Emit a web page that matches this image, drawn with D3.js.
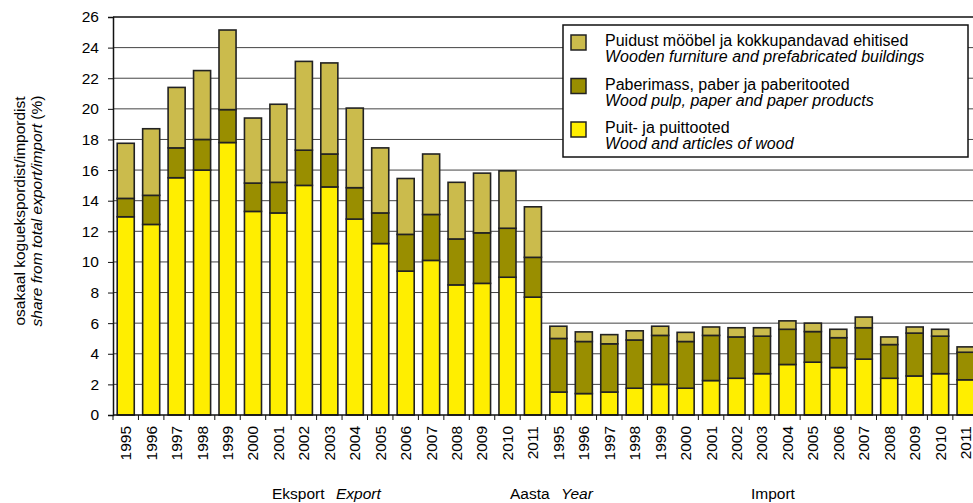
<!DOCTYPE html>
<html>
<head>
<meta charset="utf-8">
<script src="https://cdn.jsdelivr.net/npm/d3@7"></script>
<style>
  body { margin: 0; background: #fff; }
  svg { font-family: Arial, "Liberation Sans", sans-serif; }
</style>
</head>
<body>
<div id="chart"></div>
<script>
const years = ['1995','1996','1997','1998','1999','2000','2001','2002','2003','2004','2005','2006','2007','2008','2009','2010','2011'];

const exportWood      = [12.95, 12.45, 15.5, 16.0, 17.8, 13.3, 13.2, 15.0, 14.9, 12.8, 11.2, 9.4, 10.1, 8.5, 8.6, 9.0, 7.7];
const exportPaper     = [1.2, 1.9, 1.95, 2.0, 2.15, 1.85, 2.0, 2.3, 2.15, 2.05, 2.0, 2.4, 3.0, 3.0, 3.3, 3.2, 2.6];
const exportFurniture = [3.6, 4.35, 3.95, 4.5, 5.2, 4.25, 5.1, 5.8, 5.95, 5.2, 4.25, 3.65, 3.95, 3.7, 3.9, 3.75, 3.3];

const importWood      = [1.5, 1.4, 1.5, 1.75, 2.0, 1.75, 2.25, 2.4, 2.7, 3.3, 3.45, 3.1, 3.65, 2.4, 2.55, 2.7, 2.3];
const importPaper     = [3.5, 3.4, 3.15, 3.15, 3.2, 3.05, 2.95, 2.7, 2.45, 2.3, 2.0, 1.95, 2.05, 2.2, 2.8, 2.45, 1.8];
const importFurniture = [0.8, 0.63, 0.6, 0.6, 0.6, 0.6, 0.55, 0.6, 0.55, 0.55, 0.55, 0.55, 0.7, 0.5, 0.4, 0.45, 0.35];

const yTicks = d3.range(0, 27, 2);

const seriesKeys = ['wood', 'paper', 'furniture'];
const seriesColors = { wood: '#ffee00', paper: '#998e00', furniture: '#cbbb4c' };
const legendItems = [
  { key: 'furniture', et: 'Puidust mööbel ja kokkupandavad ehitised', en: 'Wooden furniture and prefabricated buildings' },
  { key: 'paper', et: 'Paberimass, paber ja paberitooted', en: 'Wood pulp, paper and paper products' },
  { key: 'wood', et: 'Puit- ja puittooted', en: 'Wood and articles of wood' }
];

// build rows: export years then import years
const rows = [];
years.forEach((y, i) => rows.push({ id: 'E' + y, year: y, wood: exportWood[i], paper: exportPaper[i], furniture: exportFurniture[i] }));
years.forEach((y, i) => rows.push({ id: 'I' + y, year: y, wood: importWood[i], paper: importPaper[i], furniture: importFurniture[i] }));

const width = 973, height = 503;
const plotLeft = 113, plotBottom = 415, plotTop = 17;
const step = 25.45;
const plotRight = plotLeft + rows.length * step;
const font = 'Arial, "Liberation Sans", sans-serif';

const svg = d3.select('#chart').append('svg')
  .attr('width', width)
  .attr('height', height);

const x = d3.scaleBand()
  .domain(rows.map(d => d.id))
  .range([plotLeft, plotRight])
  .paddingInner(0.33)
  .paddingOuter(0.165);

const y = d3.scaleLinear()
  .domain([0, 26])
  .range([plotBottom, plotTop]);

// gridlines
svg.append('g')
  .selectAll('line')
  .data(yTicks.filter(t => t > 0 && t < 26))
  .enter().append('line')
  .attr('x1', plotLeft).attr('x2', plotRight)
  .attr('y1', d => y(d)).attr('y2', d => y(d))
  .attr('stroke', '#444')
  .attr('stroke-width', 1);

// frame top
svg.append('line')
  .attr('x1', plotLeft).attr('x2', plotRight)
  .attr('y1', y(26)).attr('y2', y(26))
  .attr('stroke', '#111').attr('stroke-width', 1.5);

// stacked bars
const stack = d3.stack().keys(seriesKeys);
const stacked = stack(rows);

svg.append('g')
  .selectAll('g')
  .data(stacked)
  .enter().append('g')
  .attr('fill', d => seriesColors[d.key])
  .selectAll('rect')
  .data(d => d)
  .enter().append('rect')
  .attr('x', d => x(d.data.id))
  .attr('y', d => y(d[1]))
  .attr('width', x.bandwidth())
  .attr('height', d => y(d[0]) - y(d[1]))
  .attr('stroke', '#222')
  .attr('stroke-width', 1.6);

// y axis
const yAxis = svg.append('g')
  .attr('transform', `translate(${plotLeft},0)`)
  .call(d3.axisLeft(y).tickValues(yTicks).tickSize(5).tickPadding(9));
yAxis.select('.domain').attr('stroke', '#111').attr('stroke-width', 1.5);
yAxis.selectAll('.tick line').attr('stroke', '#111');
yAxis.selectAll('text').attr('font-size', 15.5).attr('fill', '#000')
  .attr('font-family', font);

// x axis: labels at band centers, ticks at band edges
const xAxis = svg.append('g')
  .attr('transform', `translate(0,${plotBottom})`)
  .call(d3.axisBottom(x).tickSize(0).tickFormat(id => id.slice(1)));
xAxis.select('.domain').remove();
xAxis.selectAll('text')
  .attr('font-size', 15.5)
  .attr('fill', '#000')
  .attr('font-family', font)
  .attr('text-anchor', 'end')
  .attr('transform', 'rotate(-90)')
  .attr('x', -11)
  .attr('y', 0)
  .attr('dy', '0.35em');

svg.append('line')
  .attr('x1', plotLeft).attr('x2', plotRight)
  .attr('y1', plotBottom).attr('y2', plotBottom)
  .attr('stroke', '#111').attr('stroke-width', 1.5);

svg.append('g')
  .selectAll('line')
  .data(d3.range(rows.length + 1))
  .enter().append('line')
  .attr('x1', i => plotLeft + i * x.step())
  .attr('x2', i => plotLeft + i * x.step())
  .attr('y1', plotBottom).attr('y2', plotBottom + 5)
  .attr('stroke', '#111');

// y axis title
const yTitle = svg.append('text')
  .attr('transform', 'translate(25,211) rotate(-90)')
  .attr('text-anchor', 'middle')
  .attr('font-size', 15.5);
yTitle.append('tspan').attr('x', 0).attr('dy', 0).text('osakaal koguekspordist/impordist');
const yTitle2 = yTitle.append('tspan').attr('x', 0).attr('dy', 17);
yTitle2.append('tspan').attr('font-style', 'italic').text('share from total export/import');
yTitle2.append('tspan').text(' (%)');

// bottom labels
const bottomY = 499;
const bottomLabels = [
  { x: 272, text: 'Eksport', italic: false },
  { x: 336, text: 'Export', italic: true },
  { x: 510, text: 'Aasta', italic: false },
  { x: 561, text: 'Year', italic: true },
  { x: 751, text: 'Import', italic: false }
];
svg.append('g')
  .selectAll('text')
  .data(bottomLabels)
  .enter().append('text')
  .attr('x', d => d.x)
  .attr('y', bottomY)
  .attr('font-size', 15.5)
  .attr('font-style', d => d.italic ? 'italic' : 'normal')
  .text(d => d.text);

// legend
const legend = svg.append('g');
legend.append('rect')
  .attr('x', 563).attr('y', 25)
  .attr('width', 405).attr('height', 132)
  .attr('fill', '#fff')
  .attr('stroke', '#111')
  .attr('stroke-width', 1.5);

const li = legend.selectAll('g.item')
  .data(legendItems)
  .enter().append('g')
  .attr('class', 'item')
  .attr('transform', (d, i) => `translate(0,${i * 43.5})`);

li.append('rect')
  .attr('x', 571).attr('y', 35)
  .attr('width', 15).attr('height', 15)
  .attr('fill', d => seriesColors[d.key])
  .attr('stroke', '#222')
  .attr('stroke-width', 1.5);

li.append('text')
  .attr('x', 605).attr('y', 46)
  .attr('font-size', 16)
  .text(d => d.et);

li.append('text')
  .attr('x', 605).attr('y', 62)
  .attr('font-size', 16)
  .attr('font-style', 'italic')
  .text(d => d.en);
</script>
</body>
</html>
